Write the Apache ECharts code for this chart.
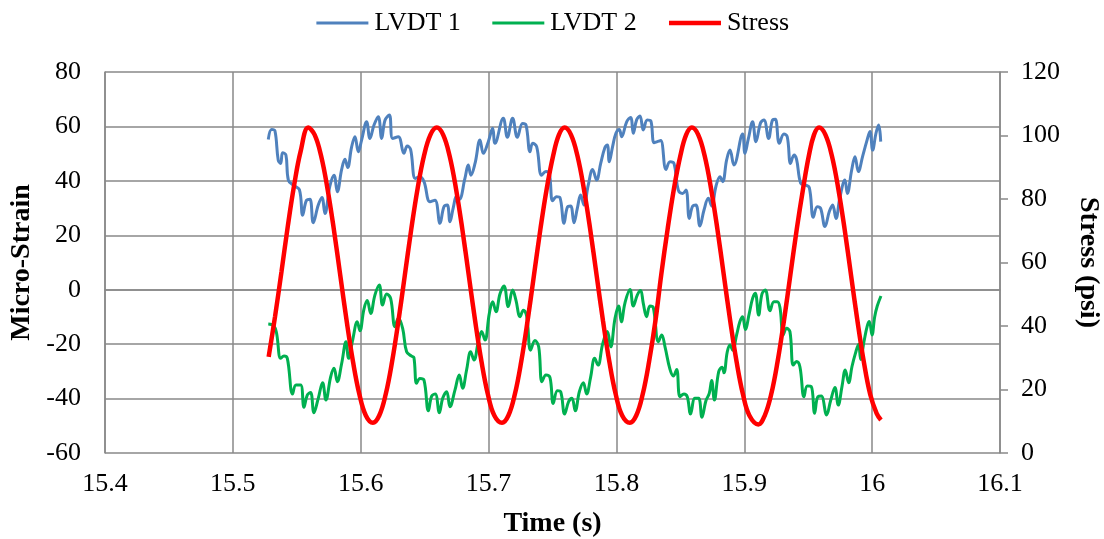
<!DOCTYPE html>
<html><head><meta charset="utf-8">
<script src="https://cdn.jsdelivr.net/npm/echarts@6/dist/echarts.min.js"></script>
<style>html,body{margin:0;padding:0;background:#fff}#c{width:1104px;height:539px}</style>
</head><body><div id="c"></div>
<script>
// ---- data ----
const lvdt1Time = [15.5277,15.5303,15.5329,15.5355,15.5374,15.5389,15.5415,15.5434,15.5473,15.5520,15.5546,15.5577,15.5603,15.5629,15.5668,15.5697,15.5720,15.5759,15.5791,15.5817,15.5851,15.5877,15.5898,15.5929,15.5955,15.5981,15.6007,15.6046,15.6072,15.6104,15.6137,15.6164,15.6190,15.6224,15.6250,15.6294,15.6338,15.6364,15.6390,15.6427,15.6463,15.6495,15.6542,15.6581,15.6620,15.6651,15.6677,15.6698,15.6724,15.6750,15.6771,15.6815,15.6841,15.6862,15.6894,15.6933,15.6959,15.6998,15.7032,15.7050,15.7115,15.7147,15.7188,15.7225,15.7266,15.7293,15.7324,15.7345,15.7376,15.7415,15.7449,15.7475,15.7501,15.7532,15.7558,15.7590,15.7616,15.7642,15.7668,15.7694,15.7720,15.7746,15.7780,15.7814,15.7845,15.7877,15.7910,15.7929,15.7944,15.7970,15.7996,15.8022,15.8041,15.8080,15.8111,15.8132,15.8158,15.8184,15.8210,15.8241,15.8268,15.8294,15.8320,15.8346,15.8388,15.8419,15.8450,15.8484,15.8518,15.8544,15.8570,15.8596,15.8622,15.8653,15.8685,15.8719,15.8745,15.8779,15.8810,15.8831,15.8862,15.8888,15.8919,15.8987,15.9005,15.9031,15.9065,15.9091,15.9128,15.9154,15.9190,15.9222,15.9243,15.9274,15.9310,15.9336,15.9362,15.9389,15.9409,15.9441,15.9475,15.9508,15.9540,15.9571,15.9597,15.9631,15.9665,15.9691,15.9717,15.9748,15.9787,15.9806,15.9840,15.9866,15.9892,15.9926,15.9957,15.9983,16.0004,16.0030,16.0051,16.0067];
const lvdt1Strain = [55.2,58.9,58.4,47.6,46.4,50.3,49.5,40.3,38.4,36.8,27.4,32.9,33.2,24.6,31.1,33.9,28.0,38.1,42.1,36.0,44.2,47.9,44.9,52.5,56.2,50.7,55.0,61.7,55.6,60.5,63.6,55.6,62.3,64.2,55.6,56.2,50.1,52.8,51.6,40.9,41.5,39.7,32.3,32.9,24.4,30.5,31.1,25.0,30.2,34.4,33.2,40.9,45.8,42.1,46.4,55.0,50.1,54.4,59.3,53.8,63.0,56.0,63.0,56.0,61.1,60.5,50.7,53.8,52.6,42.1,43.4,42.8,32.7,34.2,33.9,24.4,30.3,30.8,24.6,29.9,34.8,31.1,38.5,44.2,40.3,46.4,52.3,53.2,47.0,52.6,57.5,58.9,56.2,61.7,63.3,57.5,62.4,63.8,58.7,62.4,62.1,54.0,54.4,54.8,44.2,47.0,46.4,36.6,35.4,36.6,26.2,30.7,31.1,23.4,29.3,33.6,30.8,38.1,41.5,39.7,47.7,51.3,45.8,57.2,50.1,55.3,61.7,54.4,61.4,62.4,55.6,62.4,62.6,53.8,57.2,56.2,46.4,49.5,47.9,39.1,38.5,37.6,26.6,30.5,29.9,23.2,28.7,31.1,26.2,33.9,40.3,35.4,44.0,48.9,43.4,49.1,54.4,58.1,51.3,57.5,60.5,54.4];

const lvdt2Time = [15.5277,15.5321,15.5342,15.5374,15.5400,15.5426,15.5467,15.5494,15.5530,15.5556,15.5582,15.5608,15.5634,15.5668,15.5702,15.5728,15.5765,15.5791,15.5817,15.5851,15.5885,15.5905,15.5937,15.5973,15.5994,15.6025,15.6051,15.6078,15.6111,15.6145,15.6171,15.6203,15.6234,15.6268,15.6294,15.6328,15.6359,15.6398,15.6416,15.6437,15.6463,15.6495,15.6529,15.6555,15.6583,15.6615,15.6641,15.6672,15.6698,15.6737,15.6771,15.6797,15.6828,15.6860,15.6886,15.6920,15.6946,15.6972,15.7006,15.7032,15.7058,15.7089,15.7121,15.7154,15.7188,15.7214,15.7246,15.7272,15.7298,15.7329,15.7363,15.7392,15.7418,15.7449,15.7480,15.7506,15.7538,15.7564,15.7595,15.7626,15.7652,15.7678,15.7710,15.7741,15.7767,15.7798,15.7830,15.7856,15.7892,15.7929,15.7955,15.7989,15.8017,15.8038,15.8067,15.8106,15.8132,15.8163,15.8189,15.8210,15.8236,15.8262,15.8288,15.8328,15.8354,15.8380,15.8419,15.8445,15.8471,15.8497,15.8528,15.8554,15.8580,15.8614,15.8643,15.8669,15.8700,15.8726,15.8745,15.8766,15.8800,15.8826,15.8841,15.8867,15.8888,15.8909,15.8940,15.8966,15.8987,15.9008,15.9039,15.9065,15.9086,15.9112,15.9138,15.9164,15.9201,15.9232,15.9258,15.9279,15.9305,15.9331,15.9357,15.9383,15.9409,15.9435,15.9467,15.9493,15.9524,15.9550,15.9576,15.9602,15.9644,15.9675,15.9709,15.9735,15.9764,15.9790,15.9816,15.9842,15.9868,15.9894,15.9910,15.9936,15.9962,15.9978,15.9999,16.0020,16.0040,16.0069];
const lvdt2Strain = [-12.6,-13.3,-16.0,-25.2,-24.4,-25.2,-38.3,-35.0,-35.0,-43.2,-38.7,-37.8,-45.2,-39.9,-34.2,-40.5,-32.0,-28.9,-33.8,-27.1,-19.1,-25.2,-18.5,-11.8,-15.1,-7.2,-4.0,-8.7,-2.0,1.7,-5.6,-1.6,-3.2,-13.6,-10.5,-14.2,-22.8,-24.4,-24.9,-34.4,-32.6,-33.2,-44.5,-39.1,-38.3,-45.2,-39.9,-37.5,-43.0,-36.9,-31.3,-36.2,-29.5,-22.8,-25.8,-19.1,-15.4,-18.5,-8.7,-4.4,-8.1,-1.6,1.4,-6.2,-0.1,-3.8,-9.9,-7.5,-9.7,-22.2,-18.7,-21.0,-33.8,-31.3,-32.2,-41.8,-37.1,-37.5,-45.7,-41.1,-39.9,-44.5,-37.5,-34.2,-38.3,-32.2,-25.2,-27.7,-20.0,-15.4,-21.0,-10.5,-6.0,-11.8,-4.8,0.1,-6.0,-2.0,-0.3,-5.0,-9.9,-6.0,-6.5,-19.1,-16.6,-21.0,-29.3,-31.7,-29.3,-39.3,-38.3,-39.3,-45.7,-39.9,-39.9,-46.9,-40.8,-38.1,-33.4,-40.5,-30.1,-28.5,-30.5,-22.8,-20.3,-22.2,-16.6,-11.7,-9.9,-14.6,-8.7,-3.2,-1.3,-9.3,-1.6,-0.1,-7.7,-4.4,-4.4,-6.5,-16.6,-14.2,-15.4,-27.7,-26.4,-28.3,-39.3,-35.4,-35.6,-45.4,-39.3,-39.1,-46.0,-40.8,-35.9,-42.4,-35.6,-29.5,-34.2,-28.3,-23.6,-20.0,-25.6,-19.1,-13.3,-11.7,-16.6,-9.9,-6.0,-2.3];

const stressTime = [15.528,15.533,15.538,15.543,15.548,15.553,15.559,15.564,15.569,15.574,15.579,15.584,15.589,15.594,15.599,15.604,15.6095,15.6145,15.6195,15.6245,15.6295,15.6345,15.6395,15.6445,15.6495,15.6545,15.6595,15.6645,15.6695,15.6745,15.6795,15.6845,15.6895,15.6945,15.6995,15.7045,15.7105,15.7155,15.7205,15.7255,15.7305,15.7355,15.7405,15.7455,15.7505,15.755,15.7595,15.7645,15.7695,15.7745,15.7795,15.7845,15.7895,15.7945,15.7995,15.8045,15.8105,15.8155,15.8205,15.8255,15.8305,15.835,15.84,15.845,15.85,15.8545,15.859,15.864,15.869,15.874,15.879,15.884,15.889,15.894,15.899,15.904,15.911,15.916,15.921,15.926,15.931,15.936,15.941,15.946,15.9505,15.9545,15.9585,15.9635,15.9685,15.9735,15.9785,15.9835,15.9885,15.9935,15.9985,16.0035,16.0069];
const stressPsi = [30.3,43,57,71.5,84.5,95,102.5,100.2,93.6,83.3,70.4,56,41.6,28.7,18.4,11.8,9.5,11.8,18.4,28.7,41.6,56,70.4,83.3,93.6,100.2,102.5,100.2,93.6,83.3,70.4,56,41.6,28.7,18.4,11.8,9.5,11.8,18.4,28.7,41.6,56,70.4,83.3,93.6,100.2,102.5,100.2,93.6,83.3,70.4,56,41.6,28.7,18.4,11.8,9.5,11.8,18.4,28.7,41.6,56,70.4,83.3,93.6,100.2,102.5,100.2,93.6,83.3,70.4,56,41.6,28.7,18.4,11.8,9.0,11.8,18.4,28.7,41.6,56,70.4,83.3,93.6,100.2,102.5,100.2,93.6,83.3,70.4,56,41.6,28.7,18.4,12.5,10.4];

const xRange = [15.4, 16.1, 0.1];
const leftRange = [-60, 80, 20];
const rightRange = [0, 120, 20];
const seriesNames = ['LVDT 1', 'LVDT 2', 'Stress'];
const axisTitles = {x: 'Time (s)', left: 'Micro-Strain', right: 'Stress (psi)'};

// ---- chart ----
const zip = (t, v) => t.map((x, i) => [x, v[i]]);
const GRAY = '#898989';
const FONT = 'Liberation Serif';
const COLORS = ['#4F81BD', '#00B050', '#FF0000'];
const WIDTHS = [3, 3, 4.5];
const chart = echarts.init(document.getElementById('c'), null, {renderer: 'canvas'});
chart.setOption({
  animation: false,
  backgroundColor: '#fff',
  textStyle: {fontFamily: FONT},
  legend: {
    top: 5, left: 'center', itemWidth: 52, itemHeight: 2, itemGap: 30,
    textStyle: {fontFamily: FONT, fontSize: 26, color: '#000', padding: [0, 0, 0, 1]},
    data: seriesNames.map((n, i) => ({name: n, lineStyle: {width: WIDTHS[i], color: COLORS[i]}}))
  },
  grid: {left: 105, right: 104, top: 72, bottom: 86, containLabel: false, outerBoundsMode: 'none'},
  xAxis: {
    type: 'value', min: xRange[0], max: xRange[1], interval: xRange[2],
    name: axisTitles.x, nameLocation: 'middle', nameGap: 57,
    nameTextStyle: {fontFamily: FONT, fontSize: 28, fontWeight: 'bold', color: '#000'},
    axisLine: {show: true, lineStyle: {color: GRAY, width: 1.5}},
    axisTick: {show: false},
    axisLabel: {fontFamily: FONT, fontSize: 26, color: '#000', margin: 18,
      formatter: v => String(Math.round(v * 10) / 10)},
    splitLine: {show: true, lineStyle: {color: GRAY, width: 1.5}}
  },
  yAxis: [{
    type: 'value', min: leftRange[0], max: leftRange[1], interval: leftRange[2], position: 'left',
    name: axisTitles.left, nameLocation: 'middle', nameGap: 58,
    nameTextStyle: {fontFamily: FONT, fontSize: 28, fontWeight: 'bold', color: '#000'},
    axisLine: {show: true, lineStyle: {color: GRAY, width: 1.5}},
    axisTick: {show: false},
    axisLabel: {fontFamily: FONT, fontSize: 26, color: '#000', margin: 24},
    splitLine: {show: true, lineStyle: {color: GRAY, width: 1.5}}
  }, {
    type: 'value', min: rightRange[0], max: rightRange[1], interval: rightRange[2], position: 'right',
    name: axisTitles.right, nameLocation: 'middle', nameGap: 74, nameRotate: -90,
    nameTextStyle: {fontFamily: FONT, fontSize: 28, fontWeight: 'bold', color: '#000'},
    axisLine: {show: true, lineStyle: {color: GRAY, width: 1.5}},
    axisTick: {show: true, inside: false, length: 8, lineStyle: {color: GRAY, width: 1.5}},
    axisLabel: {fontFamily: FONT, fontSize: 26, color: '#000', margin: 21},
    splitLine: {show: false}
  }],
  series: [{
    name: seriesNames[0], type: 'line', yAxisIndex: 0, showSymbol: false, symbol: 'none', smooth: 0.4,
    lineStyle: {color: COLORS[0], width: WIDTHS[0]}, itemStyle: {color: COLORS[0]},
    data: zip(lvdt1Time, lvdt1Strain)
  }, {
    name: seriesNames[1], type: 'line', yAxisIndex: 0, showSymbol: false, symbol: 'none', smooth: 0.4,
    lineStyle: {color: COLORS[1], width: WIDTHS[1]}, itemStyle: {color: COLORS[1]},
    data: zip(lvdt2Time, lvdt2Strain)
  }, {
    name: seriesNames[2], type: 'line', yAxisIndex: 1, showSymbol: false, symbol: 'none', smooth: 0.4,
    lineStyle: {color: COLORS[2], width: WIDTHS[2]}, itemStyle: {color: COLORS[2]},
    data: zip(stressTime, stressPsi)
  }]
});
</script></body></html>
